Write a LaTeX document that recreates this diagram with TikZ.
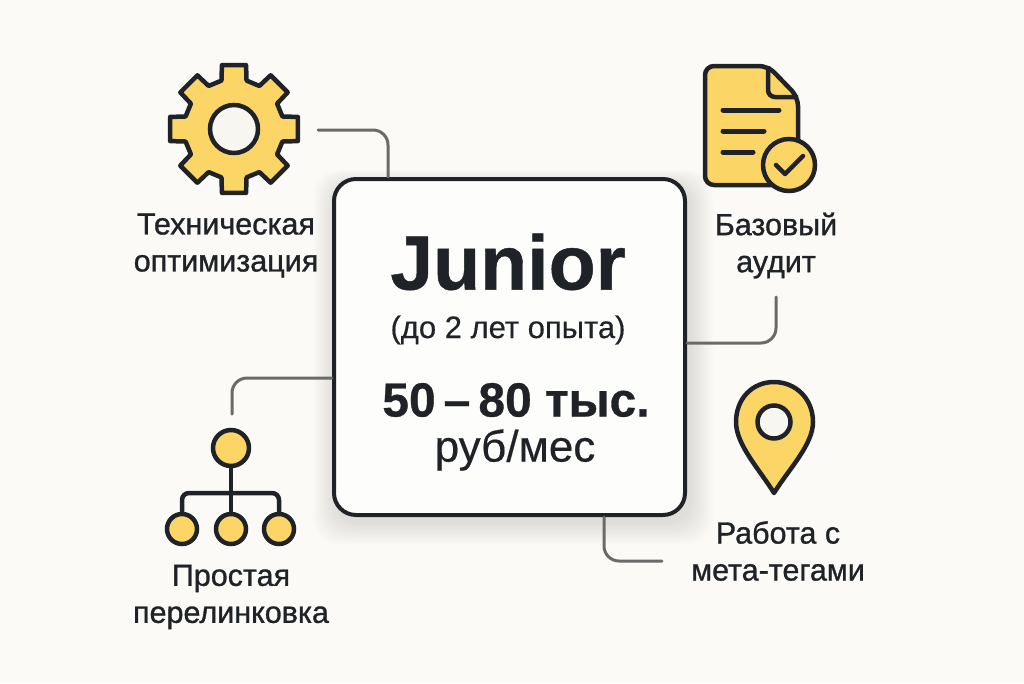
\documentclass[tikz,border=0pt]{standalone}
\usepackage{fontspec}
\setmainfont{Liberation Sans}
\newfontfamily\medf{Liberation Sans}[FakeBold=1]
\newfontfamily\lightf{Liberation Sans}[FakeBold=0.4]
\newfontfamily\heavyf{Liberation Sans Bold}[FakeBold=0.6]
\usetikzlibrary{calc}
\definecolor{bgc}{HTML}{FBFAF6}
\definecolor{ink}{HTML}{1F2327}
\definecolor{gold}{HTML}{FBD666}
\definecolor{wire}{HTML}{6A6A6A}
\definecolor{holec}{HTML}{F8F6F0}
\tikzset{
  icon/.style={draw=ink,line width=4.5pt,fill=gold,line join=round},
  hole/.style={draw=ink,line width=4.5pt,fill=holec},
  wirel/.style={draw=wire,line width=3pt,rounded corners=15pt,line cap=round},
  lab/.style={text=ink,font=\medf\fontsize{30.5}{37}\selectfont,align=center,inner sep=0pt},
  dot/.style={circle,draw=ink,line width=4.5pt,fill=gold,inner sep=0pt},
}
\begin{document}
\begin{tikzpicture}[x=1pt,y=-1pt]
\useasboundingbox (0,0) rectangle (1024,683);
\fill[bgc] (0,0) rectangle (1024,683);
% card shadow
\foreach \i in {0,...,13}{
  \fill[black,opacity=0.009,rounded corners=26pt]
    ($(334-\i*1.6,183-\i*1.0)$) rectangle ($(692+\i*1.6,524+\i*1.6)$);
}
\node[draw=ink,line width=4pt,fill=white!60!bgc,rounded corners=22pt,inner sep=0pt,minimum width=351pt,minimum height=336pt] (card) at (509.5,347) {};
\node[text=ink,font=\heavyf\fontsize{77}{84}\selectfont,inner sep=0pt] (t1) at (508,262) {Junior};
\node[text=ink,font=\lightf\fontsize{31}{37}\selectfont,inner sep=0pt] (t2) at (508,330) {(до 2 лет опыта)};
\node[text=ink,font=\heavyf\fontsize{48}{54}\selectfont,inner sep=0pt] (t3) at (516,400) {50\,–\,80 тыс.};
\node[text=ink,font=\lightf\fontsize{44}{50}\selectfont,inner sep=0pt] (t4) at (515,450) {руб/мес};
% gear
\coordinate (gc) at (234,129);
\draw[icon] ($(gc)+(-14.5:50)$)
  \foreach \a in {0,45,...,315}{
    -- ($(gc)+(\a-14.5:50)$) -- ($(gc)+(\a-10.7:65)$) -- ($(gc)+(\a+10.7:65)$) -- ($(gc)+(\a+14.5:50)$)
  } -- cycle;
\node[circle,hole,minimum size=48pt,inner sep=0pt] (gearhole) at (gc) {};
% document
\draw[icon,rounded corners=9pt] (705,66) -- (768,66) -- (798,97) -- (798,185) -- (705,185) -- cycle;
\draw[draw=ink,line width=4.5pt,line join=round,rounded corners=7pt] (768,66) -- (768,97) -- (798,97);
\draw[ink,line width=5pt,line cap=round] (723,110) -- (779,110) (723,131) -- (764,131) (723,152) -- (753,152);
\node[dot,minimum size=52pt] (docbadge) at (789,165) {};
\draw[ink,line width=4.5pt,line cap=round,line join=round] (776,165) -- (785,174) -- (803,156);
% pin
\draw[icon] (774,493) .. controls (760,470) and (736,445) .. (736,422)
  .. controls (736,399) and (752,382) .. (774,382)
  .. controls (796,382) and (813,399) .. (813,422)
  .. controls (813,445) and (788,470) .. (774,493) -- cycle;
\node[circle,hole,minimum size=33pt,inner sep=0pt] (pinhole) at (774,422) {};
% tree
\node[dot,minimum size=36pt] (r) at (231,448) {};
\node[dot,minimum size=30pt] (a) at (182,529) {};
\node[dot,minimum size=30pt] (b) at (231,529) {};
\node[dot,minimum size=30pt] (c) at (279,529) {};
\draw[ink,line width=4.5pt] (r) -- (b);
\draw[ink,line width=4.5pt,rounded corners=7pt] (a) -- (182,493) -- (279,493) -- (c);
% labels
\node[lab] (l1) at (226,245.5) {Техническая\\оптимизация};
\node[lab] (l2) at (776,245.5) {Базовый\\аудит};
\node[lab] (l3) at (231,597) {Простая\\перелинковка};
\node[lab] (l4) at (778,551) {Работа с\\мета-тегами};
% connectors
\coordinate (e1) at (318,130);
\coordinate (e2) at (776,297);
\coordinate (e3) at (232,414);
\coordinate (e4) at (662,561);
\draw[wirel] (e1) -| ([xshift=56pt]card.north west);
\draw[wirel] (e2) |- ([yshift=-166pt]card.north east);
\draw[wirel] (e3) |- ([yshift=-201pt]card.north west);
\draw[wirel] (e4) -| ([xshift=272pt]card.south west);
\end{tikzpicture}
\end{document}
